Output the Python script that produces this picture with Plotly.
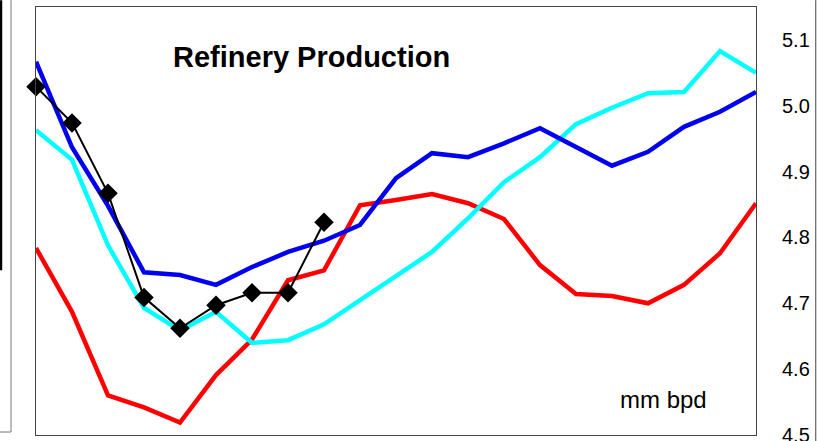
import plotly.graph_objects as go

periods = list(range(21))
red_series = [4.784, 4.687, 4.560, 4.542, 4.519, 4.591, 4.645, 4.735, 4.750, 4.849, 4.857,
              4.866, 4.852, 4.828, 4.758, 4.714, 4.711, 4.700, 4.728, 4.776, 4.852]
blue_series = [5.067, 4.937, 4.848, 4.747, 4.743, 4.728, 4.755, 4.778, 4.795, 4.819, 4.890,
               4.928, 4.922, 4.943, 4.966, 4.937, 4.909, 4.930, 4.968, 4.991, 5.021]
cyan_series = [4.963, 4.918, 4.788, 4.693, 4.659, 4.687, 4.640, 4.644, 4.668, 4.705, 4.743,
               4.778, 4.829, 4.884, 4.922, 4.972, 4.997, 5.019, 5.021, 5.083, 5.050]
black_series = [5.029, 4.974, 4.867, 4.709, 4.662, 4.697, 4.716, 4.716, 4.823]
y_ticks = [4.5, 4.6, 4.7, 4.8, 4.9, 5.0, 5.1]

FONT = "Liberation Sans, Arial, sans-serif"

fig = go.Figure()
fig.add_trace(go.Scatter(x=periods, y=red_series, mode="lines",
                         line=dict(color="#ff0000", width=4.5), showlegend=False))
fig.add_trace(go.Scatter(x=periods, y=cyan_series, mode="lines",
                         line=dict(color="#00ffff", width=4.5), showlegend=False))
fig.add_trace(go.Scatter(x=periods, y=blue_series, mode="lines",
                         line=dict(color="#0000ee", width=4.5), showlegend=False))
fig.add_trace(go.Scatter(x=periods[:len(black_series)], y=black_series, mode="lines+markers",
                         line=dict(color="#000000", width=2),
                         marker=dict(symbol="diamond", size=15, color="#000000"),
                         showlegend=False, cliponaxis=False))

fig.update_layout(
    width=818, height=441,
    margin=dict(l=36, r=62, t=7, b=6, autoexpand=False),
    paper_bgcolor="white", plot_bgcolor="white",
    font=dict(family=FONT, size=20, color="#000000"),
    xaxis=dict(range=[0, 20], showgrid=False, zeroline=False, showticklabels=False,
               ticks="", showline=True, mirror=True, linecolor="#444444", linewidth=1,
               automargin=False),
    yaxis=dict(range=[4.5, 5.15], side="right", showgrid=False, zeroline=False,
               tickvals=y_ticks, ticktext=[f"{v:.1f}" for v in y_ticks], ticks="",
               ticklabelstandoff=21, ticklabeloverflow="allow", automargin=False,
               showline=True, mirror=True, linecolor="#444444", linewidth=1,
               tickfont=dict(family=FONT, size=20, color="#000000")),
    annotations=[
        dict(text="<b>Refinery Production</b>", xref="paper", yref="paper",
             x=0.382, y=0.883, showarrow=False, xanchor="center", yanchor="middle",
             font=dict(family=FONT, size=29, color="#000000")),
        dict(text="mm bpd", xref="paper", yref="paper",
             x=0.871, y=0.084, showarrow=False, xanchor="center", yanchor="middle",
             font=dict(family=FONT, size=24, color="#000000")),
    ],
    shapes=[
        dict(type="line", xref="paper", yref="paper", x0=-0.049, x1=-0.049, y0=1.016, y1=0.385,
             line=dict(color="#000000", width=3)),
        dict(type="line", xref="paper", yref="paper", x0=-0.0347, x1=-0.0347, y0=1.016, y1=0.007,
             line=dict(color="#777777", width=1)),
        dict(type="line", xref="paper", yref="paper", x0=-0.05, x1=-0.0347, y0=0.007, y1=0.007,
             line=dict(color="#777777", width=1)),
        dict(type="line", xref="paper", yref="paper", x0=1.083, x1=1.083, y0=1.016, y1=-0.014,
             line=dict(color="#444444", width=1)),
    ],
)

post = (
    "document.documentElement.style.overflow='hidden';"
    "document.body.style.margin='0';"
    "document.body.style.overflow='hidden';"
    "window.scrollTo(0,0);"
)

fig.write_html("out.html", config={"displayModeBar": False}, post_script=post)
